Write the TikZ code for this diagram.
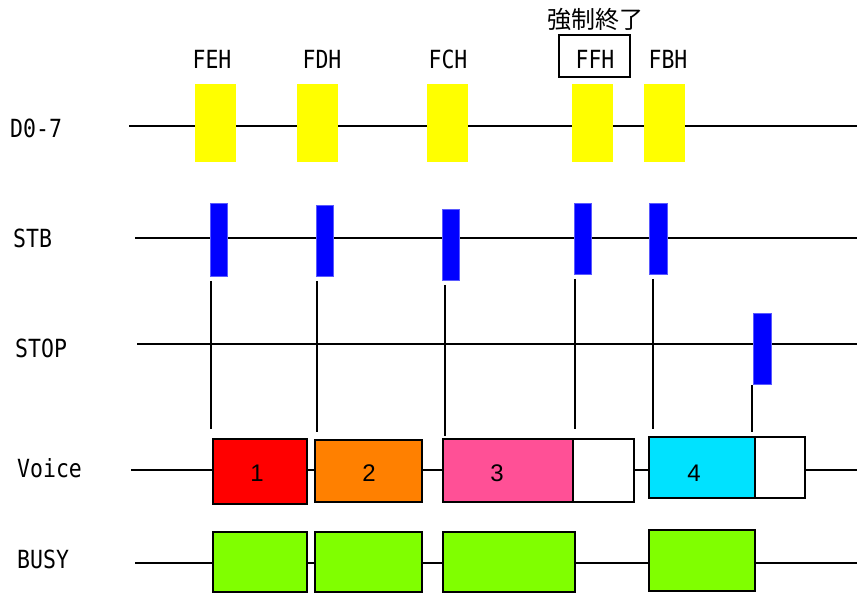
\documentclass[tikz,border=0pt]{standalone}
\usepackage{fontspec}
\usepackage{graphicx}
\newfontfamily\monof{DejaVu Sans Mono}
\newfontfamily\numf{Liberation Sans}
\newfontfamily\cjkf{Noto Sans CJK JP}
\newcommand\mlab[1]{\scalebox{0.86}[1]{\fontsize{25}{25}\selectfont\monof #1}}
\definecolor{dyellow}{RGB}{255,255,0}
\definecolor{dblue}{RGB}{0,0,255}
\definecolor{dblueedge}{RGB}{90,90,255}
\definecolor{dred}{RGB}{255,0,0}
\definecolor{dorange}{RGB}{255,128,0}
\definecolor{dpink}{RGB}{255,80,150}
\definecolor{dcyan}{RGB}{0,226,255}
\definecolor{dgreen}{RGB}{128,255,0}
\begin{document}
\begin{tikzpicture}[x=1pt,y=-1pt,
  sig/.style={line width=2pt,black},
  tick/.style={line width=2pt,black},
  rbox/.style={rectangle,inner sep=0pt,outer sep=0pt},
  ybox/.style={rbox,fill=dyellow,minimum width=41pt,minimum height=78pt},
  pulse/.style={rbox,fill=dblue,draw=dblueedge,line width=0.8pt,minimum width=17.4pt},
  vbox/.style={rbox,draw=black,line width=2pt},
  lbl/.style={inner sep=0pt,anchor=base west},
  hex/.style={inner sep=0pt,anchor=base},
  num/.style={inner sep=0pt,anchor=base,font=\fontsize{24}{24}\selectfont\numf}]
\useasboundingbox (0,0) rectangle (857,593);
\fill[white] (0,0) rectangle (857,593);

% signal names
\node[lbl] (ld) at (10,138) {\mlab{D0-7}};
\node[lbl] (ls) at (13,248) {\mlab{STB}};
\node[lbl] (lp) at (15,358) {\mlab{STOP}};
\node[lbl] (lv) at (17,477) {\mlab{Voice}};
\node[lbl] (lb) at (17,568) {\mlab{BUSY}};

% baselines
\coordinate (d0) at (129,126);   \coordinate (d1) at (857,126);
\coordinate (s0) at (135,238);   \coordinate (s1) at (857,238);
\coordinate (p0) at (137,344);   \coordinate (p1) at (857,344);
\coordinate (v0) at (131,470);   \coordinate (v1e) at (857,470);
\coordinate (u0) at (135,562.7); \coordinate (u1) at (857,562.7);
\draw[sig] (d0) -- (d1);
\draw[sig] (s0) -- (s1);
\draw[sig] (p0) -- (p1);
\draw[sig] (v0) -- (v1e);
\draw[sig] (u0) -- (u1);

% data bytes
\node[ybox] (y1) at (215.5,123) {};
\node[ybox] (y2) at (317.5,123) {};
\node[ybox] (y3) at (447.3,123) {};
\node[ybox] (y4) at (592.5,123) {};
\node[ybox] (y5) at (664,123) {};
\node[hex] (h1) at (212,69) {\mlab{FEH}};
\node[hex] (h2) at (322,69) {\mlab{FDH}};
\node[hex] (h3) at (448,69) {\mlab{FCH}};
\node[hex] (h4) at (595,69) {\mlab{FFH}};
\node[hex] (h5) at (668,69) {\mlab{FBH}};
\node[rbox,draw=black,line width=1.8pt,minimum width=70.4pt,minimum height=41.4pt] (ffbox) at (594.5,56) {};
\node[inner sep=0pt] (kj) at (595,19.5) {\fontsize{24}{24}\selectfont\cjkf 強制終了};

% strobe pulses
\node[pulse,minimum height=73.3pt] (b1) at (219,239.7) {};
\node[pulse,minimum height=71pt] (b2) at (325,240.8) {};
\node[pulse,minimum height=71pt] (b3) at (450.7,244.8) {};
\node[pulse,minimum height=71pt] (b4) at (582.7,238.5) {};
\node[pulse,minimum height=71pt] (b5) at (658.5,238.5) {};
\node[pulse,minimum height=70.7pt] (st) at (762.5,348.7) {};

% timing ticks
\coordinate (t1a) at (211,281);   \coordinate (t1b) at (211,429);
\coordinate (t2a) at (317.3,281); \coordinate (t2b) at (317.3,431.7);
\coordinate (t3a) at (445,285);   \coordinate (t3b) at (445,436);
\coordinate (t4a) at (575,279);   \coordinate (t4b) at (575,429);
\coordinate (t5a) at (653,279);   \coordinate (t5b) at (653,429);
\coordinate (t6a) at (752.3,385); \coordinate (t6b) at (752.3,431.7);
\draw[tick] (t1a) -- (t1b);
\draw[tick] (t2a) -- (t2b);
\draw[tick] (t3a) -- (t3b);
\draw[tick] (t4a) -- (t4b);
\draw[tick] (t5a) -- (t5b);
\draw[tick] (t6a) -- (t6b);

% voice output
\node[vbox,fill=dred,minimum width=93.4pt,minimum height=65pt] (w1) at (260,471.8) {};
\node[vbox,fill=dorange,minimum width=107pt,minimum height=62.3pt] (w2) at (368.5,471.2) {};
\node[vbox,fill=dpink,minimum width=130.6pt,minimum height=63pt] (w3) at (508,470.8) {};
\node[vbox,fill=white,minimum width=60.4pt,minimum height=63pt] (w3b) at (603.5,470.8) {};
\node[vbox,fill=dcyan,minimum width=106.3pt,minimum height=60.7pt] (w4) at (701.9,467.7) {};
\node[vbox,fill=white,minimum width=50pt,minimum height=60.7pt] (w4b) at (780,467.7) {};
\node[num] (n1) at (257,482) {1};
\node[num] (n2) at (369,482) {2};
\node[num] (n3) at (497,482) {3};
\node[num] (n4) at (694,482) {4};

% busy
\node[vbox,fill=dgreen,minimum width=93.4pt,minimum height=59.4pt] (g1) at (260,562) {};
\node[vbox,fill=dgreen,minimum width=107pt,minimum height=59.4pt] (g2) at (368.5,562) {};
\node[vbox,fill=dgreen,minimum width=132.3pt,minimum height=59.4pt] (g3) at (508.9,562) {};
\node[vbox,fill=dgreen,minimum width=106.6pt,minimum height=60.7pt] (g4) at (702,560.3) {};
\end{tikzpicture}
\end{document}
